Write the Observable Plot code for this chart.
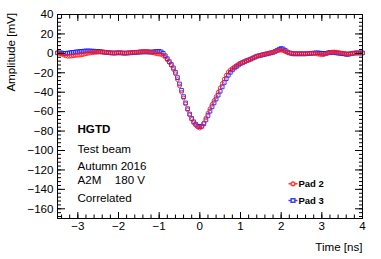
<!DOCTYPE html>
<html>
<head>
<meta charset="utf-8">
<script src="https://cdn.jsdelivr.net/npm/d3@7"></script>
<script src="https://cdn.jsdelivr.net/npm/@observablehq/plot@0.6"></script>
<style>
  html, body { margin: 0; padding: 0; background: #fff; }
</style>
</head>
<body>
<div id="chart"></div>
<script>
// Sampling grid: t from -3.5 ns to 4.0 ns every 0.05 ns
const tStart = -3.5, tStep = 0.05;

// Pad 2 (red, open circles) amplitude [mV]
const pad2 = [
  0.5, 0, -0.8, -1.8, -2.5, -3, -3, -2.8, -2.5, -2.2,
  -2, -1.8, -1.5, -1, -0.5, 0, 0.3, 0.6, 0.8, 1,
  1.2, 1.3, 1.3, 1.2, 1, 0.8, 0.5, 0.3, 0.3, 0.5,
  0.8, 0.8, 0.5, 0.3, 0.3, 0.5, 0.8, 1, 1, 1.2,
  1.5, 1.8, 2, 2, 2, 1.8, 1.3, 0.5, 0, -0.5,
  -0.8, -1.2, -2.2, -4, -6.8, -9.5, -12.5, -16.5, -21, -27,
  -33.5, -40, -46, -52, -58, -63.5, -68, -71.5, -74, -76,
  -77, -75.5, -71.5, -66.5, -61.5, -57, -52.5, -48.5, -44.5, -40,
  -35.5, -31, -26.5, -22.5, -19, -17, -15.5, -14, -12.5, -11.2,
  -10.2, -9.5, -8.8, -7.8, -6.8, -5.8, -4.8, -3.8, -3, -2.3,
  -1.7, -1.2, -0.7, -0.2, 0.3, 0.7, 1.2, 1.8, 2.5, 3,
  3.2, 2.8, 1.8, 1, 0.5, 0.2, 0, 0, 0, 0,
  0, -0.3, -0.3, 0, 0, 0, 0, -0.3, -0.8, -1.2,
  -1.5, -1.3, -0.5, 0.3, 1, 1.3, 1.5, 1.3, 1, 0.6,
  0.3, 0, -0.2, -0.3, -0.3, 0, 0.2, 0.3, 0.3, 0.2,
  0.2
];

// Pad 3 (blue, open squares) amplitude [mV]
const pad3 = [
  0.5, 0.5, 0.5, 0, 0, 0.3, 0.5, 1, 1, 1.5,
  1.5, 2, 2, 2.3, 2.5, 2.5, 2.5, 2.3, 2.2, 2,
  2, 1.8, 1.5, 1.2, 1, 0.8, 0.5, 0.5, 0.3, 0.5,
  0.5, 0.5, 0.3, 0.2, 0.3, 0.5, 0.5, 0.8, 1, 1,
  1.2, 1.3, 1.5, 1.5, 1.5, 1.3, 1.3, 1.5, 1.8, 2,
  2, 1.5, 0, -2.5, -5.5, -8.5, -11.5, -15, -19.5, -25,
  -31.5, -38, -44.5, -51, -57, -62.5, -67, -70.5, -73, -75,
  -75.5, -75, -72.5, -68.5, -64, -59.5, -55, -51, -47, -43,
  -39, -34.5, -30, -26, -22.5, -19.5, -17, -15, -13.5, -12,
  -10.5, -9.5, -8.5, -7.5, -6.8, -6, -5, -4, -3, -2.5,
  -2, -1.5, -1, -0.5, 0, 0.5, 1, 2, 3, 4.2,
  5, 4.5, 3, 1.5, 0.5, 0, -0.5, -0.5, -0.5, -0.5,
  -0.5, -0.5, -0.5, -0.3, 0, 0, 0.3, 0.5, 0.5, 0.3,
  0, 0, 0, 0.5, 1, 1, 1, 0.5, 0.3, 0,
  -0.3, -0.5, -1, -1, -0.5, 0, 0.3, 0.5, 0.5, 0.5,
  0.5
];

const seriesNames = ["Pad 2", "Pad 3"];
const seriesColors = ["#ff1a1a", "#1a1aff"];

const xMajor = [-3, -2, -1, 0, 1, 2, 3, 4];
const yMajor = [-160, -140, -120, -100, -80, -60, -40, -20, 0, 20, 40];
const xMinor = d3.range(-3.4, 4.001, 0.2).map(v => +v.toFixed(2));
const yMinor = d3.range(-168, 40.001, 4);

const annotations = ["HGTD", "Test beam", "Autumn 2016", "A2M", "180 V", "Correlated"];
const xTitle = "Time [ns]";
const yTitle = "Amplitude [mV]";

const times = pad2.map((_, i) => +(tStart + i * tStep).toFixed(2));
const rows2 = pad2.map((v, i) => ({t: times[i], v}));
const rows3 = pad3.map((v, i) => ({t: times[i], v}));

const fmt = d => d < 0 ? "\u2212" + Math.abs(d) : String(d);

const legCircle = {draw(ctx, size) {
  const r = Math.sqrt(size / Math.PI);
  ctx.moveTo(r, 0); ctx.arc(0, 0, r, 0, 2 * Math.PI);
  ctx.moveTo(-4.5, 0); ctx.lineTo(-r, 0);
  ctx.moveTo(r, 0); ctx.lineTo(4.5, 0);
}};
const legSquare = {draw(ctx, size) {
  const s = Math.sqrt(size) / 2;
  ctx.rect(-s, -s, 2 * s, 2 * s);
  ctx.moveTo(-4.5, 0); ctx.lineTo(-s, 0);
  ctx.moveTo(s, 0); ctx.lineTo(4.5, 0);
}};

const FONT = "'Liberation Sans', Arial, Helvetica, sans-serif";
const FS = 11.6;

const chart = Plot.plot({
  width: 381,
  height: 259,
  marginLeft: 57,
  marginRight: 19,
  marginTop: 14,
  marginBottom: 41,
  style: {fontFamily: FONT, fontSize: FS + "px", color: "#000", background: "#fff"},
  x: {domain: [-3.5, 4]},
  y: {domain: [-170, 40]},
  marks: [
    // data
    Plot.dot(rows3, {x: "t", y: "v", symbol: "square", r: 2.1, stroke: seriesColors[1], strokeWidth: 1, fill: "none", strokeOpacity: 0.85}),
    Plot.dot(rows2, {x: "t", y: "v", symbol: "circle", r: 1.9, stroke: seriesColors[0], strokeWidth: 1, fill: "none", strokeOpacity: 0.85}),
    // frame
    Plot.frame({stroke: "#000", strokeWidth: 1}),
    // inward ticks
    Plot.axisX(xMajor, {anchor: "bottom", tickSize: -6, tickFormat: () => "", label: null}),
    Plot.axisX(xMinor, {anchor: "bottom", tickSize: -3.5, tickFormat: () => "", label: null}),
    Plot.axisX(xMajor, {anchor: "top", tickSize: -6, tickFormat: () => "", label: null}),
    Plot.axisX(xMinor, {anchor: "top", tickSize: -3.5, tickFormat: () => "", label: null}),
    Plot.axisY(yMajor, {anchor: "left", tickSize: -8, tickFormat: () => "", label: null}),
    Plot.axisY(yMinor, {anchor: "left", tickSize: -4, tickFormat: () => "", label: null}),
    Plot.axisY(yMajor, {anchor: "right", tickSize: -8, tickFormat: () => "", label: null}),
    Plot.axisY(yMinor, {anchor: "right", tickSize: -4, tickFormat: () => "", label: null}),
    // tick labels
    Plot.axisX(xMajor, {anchor: "bottom", tickSize: 0, tickPadding: 3, tickFormat: fmt, label: null, fontSize: FS}),
    Plot.axisY(yMajor, {anchor: "left", tickSize: 0, tickPadding: 4, tickFormat: fmt, label: null, fontSize: FS}),
    // axis titles
    Plot.text([yTitle], {frameAnchor: "top-left", rotate: -90, textAnchor: "end", lineAnchor: "middle", dx: -46, dy: -1.5, fontSize: FS}),
    Plot.text([xTitle], {frameAnchor: "bottom-right", textAnchor: "end", lineAnchor: "middle", dy: 28.7, fontSize: FS}),
    // annotations
    Plot.text([annotations[0]], {frameAnchor: "top-left", textAnchor: "start", lineAnchor: "middle", dx: 20, dy: 115, fontSize: FS, fontWeight: "bold"}),
    Plot.text([annotations[1]], {frameAnchor: "top-left", textAnchor: "start", lineAnchor: "middle", dx: 20, dy: 134.3, fontSize: FS}),
    Plot.text([annotations[2]], {frameAnchor: "top-left", textAnchor: "start", lineAnchor: "middle", dx: 20, dy: 151.7, fontSize: FS}),
    Plot.text([annotations[3]], {frameAnchor: "top-left", textAnchor: "start", lineAnchor: "middle", dx: 20, dy: 166, fontSize: FS}),
    Plot.text([annotations[4]], {frameAnchor: "top-left", textAnchor: "start", lineAnchor: "middle", dx: 57.3, dy: 166, fontSize: FS}),
    Plot.text([annotations[5]], {frameAnchor: "top-left", textAnchor: "start", lineAnchor: "middle", dx: 20, dy: 183.7, fontSize: FS}),
    // legend
    Plot.dot([0], {frameAnchor: "bottom-right", dx: -69.5, dy: -34.7, symbol: legCircle, r: 1.9, stroke: seriesColors[0], strokeOpacity: 0.85, fill: "none"}),
    Plot.dot([0], {frameAnchor: "bottom-right", dx: -69.5, dy: -18, symbol: legSquare, r: 2.1, stroke: seriesColors[1], strokeOpacity: 0.85, fill: "none"}),
    Plot.text([seriesNames[0]], {frameAnchor: "bottom-right", textAnchor: "start", lineAnchor: "middle", dx: -64, dy: -34.7, fontSize: 9.5, fontWeight: "bold"}),
    Plot.text([seriesNames[1]], {frameAnchor: "bottom-right", textAnchor: "start", lineAnchor: "middle", dx: -64, dy: -18, fontSize: 9.5, fontWeight: "bold"})
  ]
});
document.getElementById("chart").appendChild(chart);
</script>
</body>
</html>
